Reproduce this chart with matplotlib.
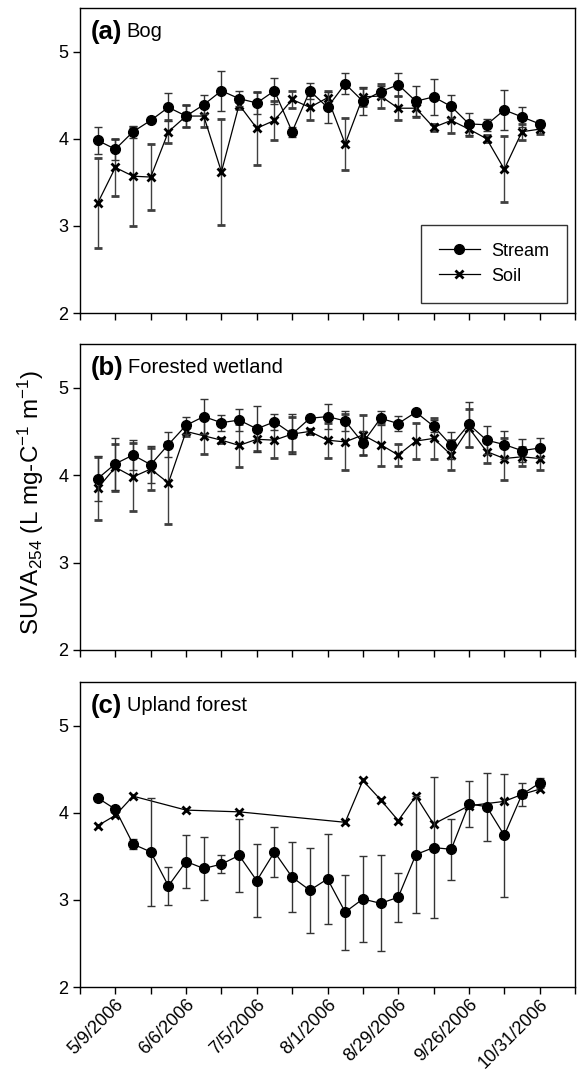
import matplotlib
matplotlib.use("Agg")
import matplotlib.pyplot as plt
import numpy as np

plt.rcParams['font.family'] = ['Liberation Sans', 'DejaVu Sans']
plt.rcParams['mathtext.fontset'] = 'custom'
plt.rcParams['mathtext.rm'] = 'Liberation Sans'
plt.rcParams['mathtext.it'] = 'Liberation Sans:italic'

# sample index (weekly sampling, 26 samples)
samples = list(range(26))

# x tick labels (placed at sample indices)
tick_label_pos = [1, 5, 9, 13, 17, 21, 25]
tick_labels = ['5/9/2006', '6/6/2006', '7/5/2006', '8/1/2006',
               '8/29/2006', '9/26/2006', '10/31/2006']

# (a) Bog
bog_stream = [3.98, 3.88, 4.08, 4.21, 4.36, 4.26, 4.39, 4.55, 4.46, 4.41, 4.55, 4.08, 4.55,
              4.36, 4.63, 4.43, 4.54, 4.62, 4.43, 4.48, 4.37, 4.17, 4.16, 4.33, 4.25, 4.17]
bog_stream_err = [0.15, 0.12, 0.07, 0.02, 0.16, 0.13, 0.11, 0.23, 0.09, 0.13, 0.15, 0.06, 0.09,
                  0.18, 0.12, 0.16, 0.07, 0.13, 0.17, 0.21, 0.13, 0.13, 0.07, 0.23, 0.11, 0.05]
bog_soil = [3.26, 3.67, 3.57, 3.56, 4.08, 4.26, 4.26, 3.62, 4.39, 4.12, 4.21, 4.45, 4.36,
            4.47, 3.94, 4.48, 4.49, 4.35, 4.35, 4.13, 4.21, 4.11, 4.00, 3.65, 4.08, 4.11]
bog_soil_err = [0.515, 0.33, 0.57, 0.38, 0.13, 0.13, 0.13, 0.61, 0.05, 0.42, 0.22, 0.10, 0.14,
                0.08, 0.30, 0.10, 0.14, 0.14, 0.10, 0.04, 0.15, 0.08, 0.04, 0.38, 0.09, 0.06]

# (b) Forested wetland
fw_stream = [3.96, 4.13, 4.23, 4.12, 4.35, 4.57, 4.67, 4.60, 4.63, 4.53, 4.61, 4.47, 4.65,
             4.67, 4.62, 4.37, 4.65, 4.59, 4.72, 4.56, 4.34, 4.58, 4.40, 4.35, 4.28, 4.31]
fw_stream_err = [0.26, 0.30, 0.17, 0.21, 0.14, 0.10, 0.20, 0.09, 0.13, 0.26, 0.09, 0.23, 0.03,
                 0.14, 0.11, 0.14, 0.08, 0.09, 0.03, 0.07, 0.15, 0.26, 0.16, 0.16, 0.13, 0.11]
fw_soil = [3.85, 4.09, 3.98, 4.07, 3.91, 4.50, 4.45, 4.40, 4.34, 4.41, 4.40, 4.47, 4.50,
           4.40, 4.38, 4.46, 4.35, 4.23, 4.39, 4.42, 4.23, 4.54, 4.27, 4.19, 4.21, 4.19]
fw_soil_err = [0.36, 0.27, 0.39, 0.24, 0.47, 0.05, 0.21, 0.03, 0.25, 0.13, 0.20, 0.20, 0.03,
               0.20, 0.32, 0.23, 0.25, 0.13, 0.21, 0.23, 0.17, 0.22, 0.13, 0.24, 0.11, 0.13]

# (c) Upland forest
up_stream = [4.17, 4.04, 3.64, 3.55, 3.16, 3.44, 3.36, 3.41, 3.51, 3.22, 3.55, 3.26, 3.11,
             3.24, 2.86, 3.01, 2.96, 3.03, 3.52, 3.60, 3.58, 4.10, 4.07, 3.74, 4.21, 4.34]
up_stream_err = [0.03, 0.03, 0.06, 0.62, 0.22, 0.30, 0.36, 0.10, 0.42, 0.42, 0.29, 0.40, 0.49,
                 0.52, 0.43, 0.49, 0.55, 0.28, 0.67, 0.81, 0.35, 0.26, 0.39, 0.71, 0.13, 0.06]
up_soil_samples = [0, 1, 2, 5, 8, 14, 15, 16, 17, 18, 19, 21, 23, 24, 25]
up_soil = [3.85, 3.97, 4.19, 4.03, 4.01, 3.89, 4.37, 4.15, 3.91, 4.19, 3.87, 4.08, 4.13, 4.21, 4.27]

panels = [
    ('(a)', 'Bog', samples, bog_stream, bog_stream_err, samples, bog_soil, bog_soil_err),
    ('(b)', 'Forested wetland', samples, fw_stream, fw_stream_err, samples, fw_soil, fw_soil_err),
    ('(c)', 'Upland forest', samples, up_stream, up_stream_err, up_soil_samples, up_soil, None),
]

fig = plt.figure(figsize=(5.77, 10.69), dpi=100)
W, H = 577.0, 1069.0
left, right = 80 / W, 575 / W
rows = [(8, 313), (344, 650), (682, 987)]

tick_pos = list(range(-1, 28, 2))
tick_lab = [tick_labels[tick_label_pos.index(p)] if p in tick_label_pos else '' for p in tick_pos]

for i, ((top, bot), p) in enumerate(zip(rows, panels)):
    letter, name, xs, ys, es, xs2, ys2, es2 = p
    ax = fig.add_axes([left, 1 - bot / H, right - left, (bot - top) / H])
    soil_c = ax.errorbar(xs2, ys2, yerr=es2, color='black', lw=0.9, marker='x', ms=6, mew=2,
                         ecolor='0.25', elinewidth=1, capsize=3, capthick=1, zorder=2)
    stream_c = ax.errorbar(xs, ys, yerr=es, color='black', lw=0.9, marker='o', ms=7, mec='black',
                           mfc='black', ecolor='0.2', elinewidth=1, capsize=3, capthick=1,
                           zorder=3)
    ax.set_xlim(-1, 27)
    ax.set_ylim(2, 5.5)
    ax.set_yticks([2, 3, 4, 5])
    ax.set_xticks(tick_pos)
    if i == 2:
        ax.set_xticklabels(tick_lab, rotation=45, ha='right', rotation_mode='anchor', fontsize=11.8)
    else:
        ax.set_xticklabels([''] * len(tick_pos))
    ax.tick_params(axis='both', direction='out', length=5, width=1, labelsize=13)
    ax.tick_params(axis='x', pad=1.5)
    for s in ax.spines.values():
        s.set_linewidth(1)
    t = ax.text(0.021, 0.922, letter, transform=ax.transAxes, fontsize=18.5, fontweight='bold',
                va='center', ha='left')
    ax.annotate(name, xy=(1, 0.5), xycoords=t, xytext=(3.5, 0), textcoords='offset points',
                va='center', ha='left', fontsize=14.5)
    if i == 0:
        leg = ax.legend([stream_c[0], soil_c[0]], ['Stream', 'Soil'], loc='lower right',
                        bbox_to_anchor=(0.9844, 0.0338), borderaxespad=0, fontsize=13,
                        frameon=True, fancybox=False, edgecolor='black', borderpad=1.0,
                        handlelength=2.27, handletextpad=0.63, labelspacing=0.44)
        leg.get_frame().set_linewidth(1)

fig.text(0.0537, 1 - 502 / H, r'SUVA$_{254}$ (L mg-C$^{-1}$ m$^{-1}$)', rotation=90,
         va='center', ha='center', fontsize=17.5)

fig.savefig('out.png', dpi=100)
